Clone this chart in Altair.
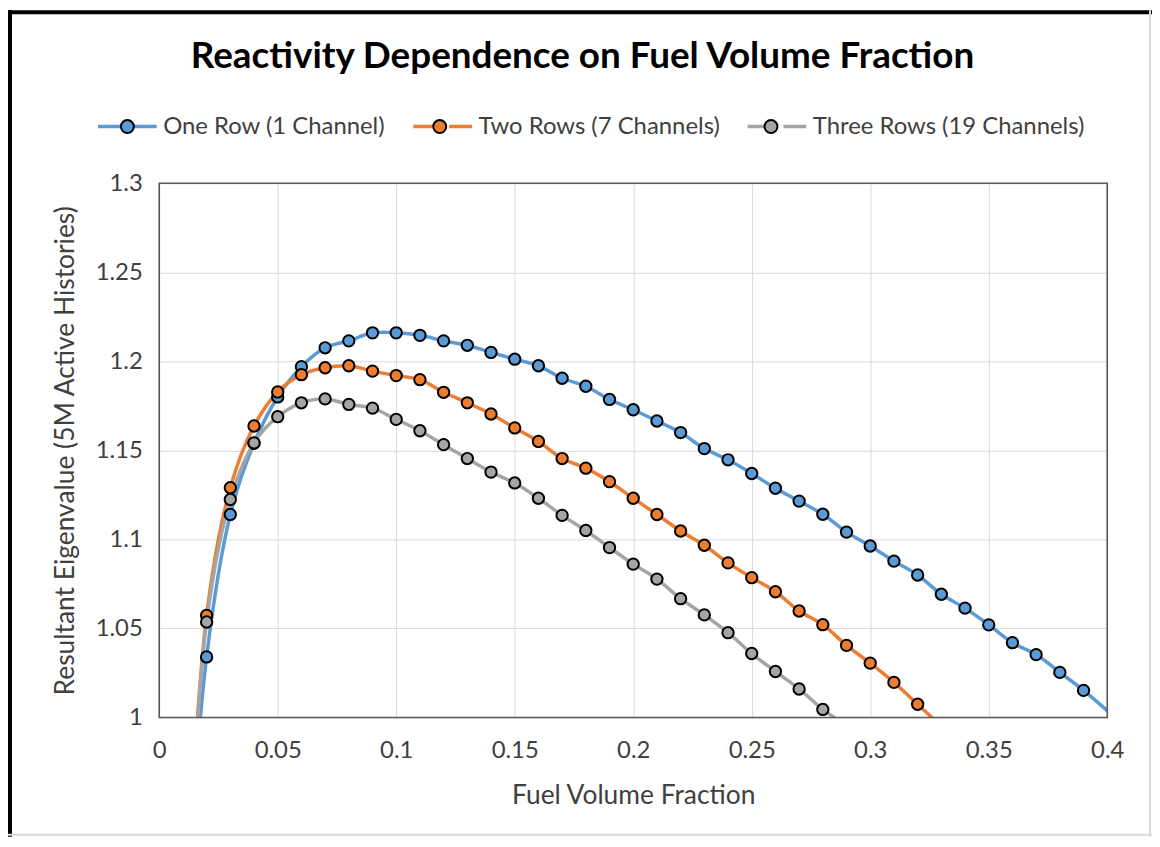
import altair as alt
import pandas as pd

# ---------------- data ----------------
fraction = [0.01, 0.02, 0.03, 0.04, 0.05, 0.06, 0.07, 0.08, 0.09, 0.10,
            0.11, 0.12, 0.13, 0.14, 0.15, 0.16, 0.17, 0.18, 0.19, 0.20,
            0.21, 0.22, 0.23, 0.24, 0.25, 0.26, 0.27, 0.28, 0.29, 0.30,
            0.31, 0.32, 0.33, 0.34, 0.35, 0.36, 0.37, 0.38, 0.39, 0.40, 0.41]

one_row = [0.870, 1.034, 1.114, 1.154, 1.180, 1.197, 1.2076, 1.2115, 1.216, 1.216,
           1.2146, 1.2115, 1.209, 1.205, 1.2012, 1.1975, 1.1905, 1.186, 1.1786, 1.1728,
           1.1665, 1.160, 1.151, 1.1447, 1.137, 1.1287, 1.1215, 1.1141, 1.1041, 1.0963,
           1.0878, 1.080, 1.0692, 1.0614, 1.052, 1.042, 1.0353, 1.0253, 1.0152, None, 0.992]

two_rows = [0.860, 1.0573, 1.129, 1.1637, 1.1828, 1.1925, 1.1964, 1.1975, 1.1945, 1.192,
            1.1897, 1.1826, 1.1767, 1.1704, 1.1626, 1.155, 1.1454, 1.140, 1.1324, 1.1231,
            1.114, 1.1047, 1.0967, 1.0868, 1.0785, 1.0706, 1.0598, 1.0521, 1.0405, 1.0305,
            1.0197, 1.0074, 0.995]

three_rows = [0.860, 1.0536, 1.1224, 1.1542, 1.1689, 1.1767, 1.1789, 1.1758, 1.1737, 1.1674,
              1.161, 1.1532, 1.1454, 1.1378, 1.1317, 1.1231, 1.1135, 1.105, 1.0954, 1.0861,
              1.0777, 1.0667, 1.0576, 1.0476, 1.0359, 1.0258, 1.016, 1.0045, 0.9955]

series_names = ["One Row (1 Channel)", "Two Rows (7 Channels)", "Three Rows (19 Channels)"]
series_colors = ["#5B9BD5", "#ED7D31", "#A5A5A5"]

x_ticks = [0, 0.05, 0.1, 0.15, 0.2, 0.25, 0.3, 0.35, 0.4]
y_ticks = [1, 1.05, 1.1, 1.15, 1.2, 1.25, 1.3]

title_text = "Reactivity Dependence on Fuel Volume Fraction"
x_title = "Fuel Volume Fraction"
y_title = "Resultant Eigenvalue (5M Active Histories)"

# ---------------- table ----------------
rows = []
for name, values in zip(series_names, [one_row, two_rows, three_rows]):
    for fx, v in zip(fraction, values):
        if v is None:
            continue
        rows.append({"series": name, "series_pt": name, "fraction": fx, "eigen": v})
df = pd.DataFrame(rows)

FONT = "Lato"
TXT = "#404040"
W, H = 953, 537
PAD = {"left": 152, "top": 174, "right": 45, "bottom": 120}

LX, LY = -44, -69
LINE_PATH = "M-5.9,0H-1.3M1.3,0H5.9"
CIRCLE_PATH = "M-5.9,0M5.9,0M-1.3,0A1.3,1.3 0 1,1 1.3,0A1.3,1.3 0 1,1 -1.3,0Z"

xscale = alt.Scale(domain=[0, 0.4], nice=False, zero=False)
yscale = alt.Scale(domain=[1, 1.3], nice=False, zero=False)

x_axis = alt.Axis(values=x_ticks, format=".2~f", grid=True, gridColor="#D9D9D9", gridWidth=1,
                  domain=False, ticks=False, labelFlush=False,
                  labelFont=FONT, labelFontSize=24, labelColor=TXT, labelPadding=21,
                  title=x_title, titleFont=FONT, titleFontSize=26.5, titleFontWeight="normal",
                  titleColor=TXT, titleX=W / 2, titleY=78, titleBaseline="middle", titleAlign="center")
y_axis = alt.Axis(values=y_ticks, format=".2~f", grid=True, gridColor="#D9D9D9", gridWidth=1,
                  domain=False, ticks=False, labelFlush=False,
                  labelFont=FONT, labelFontSize=24, labelColor=TXT, labelPadding=17,
                  title=y_title, titleFont=FONT, titleFontSize=26.5, titleFontWeight="normal",
                  titleColor=TXT, titleX=-94, titleY=H / 2, titleAngle=270,
                  titleBaseline="middle", titleAlign="center")

common_legend = dict(title=None, orient="none", legendX=LX, legendY=LY, direction="horizontal",
                     symbolSize=100, labelFont=FONT, labelFontSize=24, labelColor=TXT,
                     labelOffset=24, columnPadding=20, labelLimit=500)

lines = alt.Chart(df).mark_line(interpolate="catmull-rom", strokeWidth=3.5, clip=True).encode(
    x=alt.X("fraction:Q", scale=xscale, axis=x_axis),
    y=alt.Y("eigen:Q", scale=yscale, axis=y_axis),
    color=alt.Color("series:N", sort=series_names, scale=alt.Scale(range=series_colors),
                    legend=alt.Legend(symbolType=LINE_PATH, symbolStrokeWidth=3.5, **common_legend)),
    order=alt.Order("fraction:Q"),
)

points = alt.Chart(df).transform_filter(
    "datum.eigen >= 1 && datum.fraction <= 0.4"
).mark_circle(size=130, stroke="black", strokeWidth=2, opacity=1).encode(
    x=alt.X("fraction:Q", scale=xscale),
    y=alt.Y("eigen:Q", scale=yscale),
    fill=alt.Fill("series_pt:N", sort=series_names, scale=alt.Scale(range=series_colors),
                  legend=alt.Legend(symbolType=CIRCLE_PATH, symbolStrokeColor="black",
                                    symbolStrokeWidth=2, labelOpacity=0, **common_legend)),
)

frame_df = pd.DataFrame({"k": [0]})
border = alt.Chart(frame_df).mark_rect(fill="transparent", stroke="#595959", strokeWidth=1.6).encode(
    x=alt.datum(0, scale=xscale), x2=alt.datum(0.4),
    y=alt.datum(1, scale=yscale), y2=alt.datum(1.3),
)

left_frame = alt.Chart(frame_df).mark_rule(color="black", strokeWidth=4).encode(
    x=alt.value(-150), y=alt.value(-174), y2=alt.value(H + PAD["bottom"]))
top_frame = alt.Chart(frame_df).mark_rule(color="black", strokeWidth=4).encode(
    x=alt.value(-152), x2=alt.value(W + PAD["right"]), y=alt.value(-172))
right_frame = alt.Chart(frame_df).mark_rule(color="#D9D9D9", strokeWidth=2).encode(
    x=alt.value(W + PAD["right"] - 2), y=alt.value(-174), y2=alt.value(H + PAD["bottom"]))
bottom_frame = alt.Chart(frame_df).mark_rule(color="#D9D9D9", strokeWidth=2).encode(
    x=alt.value(-152), x2=alt.value(W + PAD["right"]), y=alt.value(H + PAD["bottom"] - 2))

chart = alt.layer(lines, points, border, left_frame, top_frame, right_frame, bottom_frame).properties(
    width=W, height=H,
    autosize=alt.AutoSizeParams(type="none"),
    padding=PAD,
    title=alt.TitleParams(title_text, font=FONT, fontSize=37, fontWeight="bold", color="black",
                          anchor="middle", dx=-51, offset=-68),
    background="white",
).configure_view(strokeWidth=0)

chart.save("out.html", embed_options={"renderer": "svg", "actions": False})
